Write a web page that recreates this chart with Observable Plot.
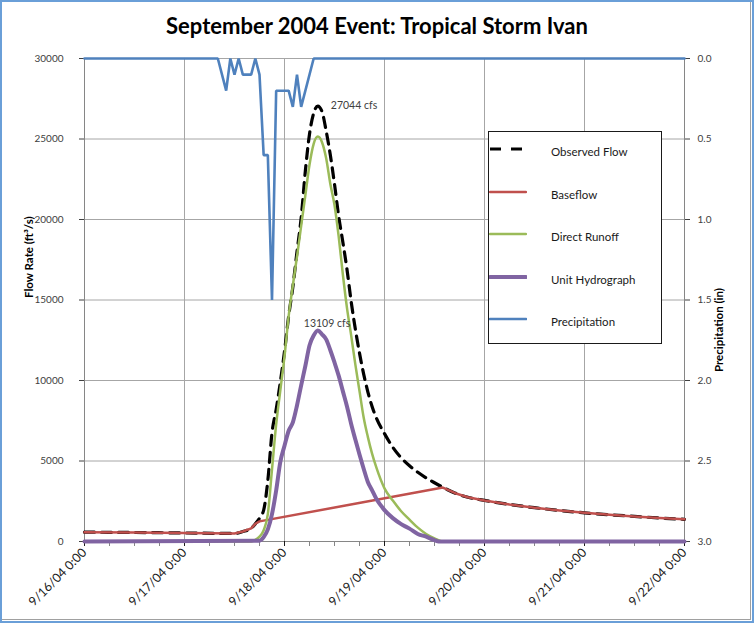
<!DOCTYPE html>
<html>
<head>
<meta charset="utf-8">
<script src="https://cdn.jsdelivr.net/npm/d3@7"></script>
<script src="https://cdn.jsdelivr.net/npm/@observablehq/plot@0.6"></script>
<style>
  body { margin: 0; background: #fff; }
  #wrap { position: relative; width: 754px; height: 623px; overflow: hidden; font-family: Lato, "Open Sans", sans-serif; background: #fff; }
  #wrap svg { position: absolute; left: 0; top: 0; }
  #title { position: absolute; left: 0; top: 12px; width: 754px; text-align: center; font-weight: bold; font-size: 22px; line-height: 28px; color: #000; }
  #legend { position: absolute; left: 488px; top: 131px; width: 174px; height: 213px; box-sizing: border-box; border: 1px solid #1a1a1a; background: #fff; }
  .row { position: absolute; left: 0; height: 20px; width: 170px; }
  .row svg { position: absolute; left: 22px; top: 4px; }
  .row span { position: absolute; left: 62px; top: 2px; font-size: 11.5px; color: #1a1a1a; white-space: nowrap; }
  #border { position: absolute; left: 0; top: 0; width: 754px; height: 623px; box-sizing: border-box; border: 2px solid #6a9fd8; pointer-events: none; }
  #shadow { position: absolute; left: 0; top: 0; width: 751px; height: 620px; box-sizing: border-box; border-right: 1px solid #a0a0a0; border-bottom: 1px solid #a0a0a0; pointer-events: none; }
</style>
</head>
<body>
<div id="wrap">
  <div id="chart"></div>
  <div id="title">September 2004 Event: Tropical Storm Ivan</div>
  <div id="legend"></div>
  <div id="shadow"></div>
  <div id="border"></div>
</div>
<script>
// ---------- data (hours after 9/16/04 0:00) ----------
const obsHours = [0,12,24,36,38,40,41,42,43,44,45,46,47,48,49,50,51,52,53,54,55,56,57,58,59,60,61,62,63,64,65,66,67,68,69,70,72,74,76,78,80,82,84,86,89,92,96,102,108,114,120,126,132,138,144];
const obsFlow  = [580,560,530,500,620,820,1100,1450,1950,3800,6750,8200,9900,11800,14000,15800,18000,20100,23000,25300,26600,27044,26700,25500,24000,22200,20200,18600,16900,14900,13200,11700,10400,9300,8400,7700,6700,5850,5200,4700,4300,3950,3650,3370,3000,2750,2550,2300,2100,1930,1780,1660,1560,1460,1380];

const baseHours = [0,12,24,36,38,40,41,42,86,89,92,96,102,108,114,120,126,132,138,144];
const baseFlow  = [580,560,530,500,620,820,1100,1250,3350,3000,2750,2550,2300,2100,1930,1780,1660,1560,1460,1380];

const runoffHours = [0,40,41,42,43,44,45,46,47,48,49,50,51,52,53,54,55,56,57,58,59,60,61,62,63,64,65,66,67,68,69,70,72,74,76,78,80,82,84,86,144];
const runoffFlow  = [0,0,100,300,700,1700,4480,7270,9390,11500,14000,15900,17700,19600,21500,23400,24700,25150,24800,23800,22200,20900,18950,16600,14500,12800,11000,9350,7700,6500,5470,4630,3300,2540,1880,1360,860,470,200,0,0];

const uhHours = [0,42,43,44,45,46,47,48,49,50,51,52,53,54,55,56,57,58,59,60,61,62,63,64,65,66,67,68,69,70,72,74,76,78,80,82,84,85,144];
const uhFlow  = [0,50,270,750,1700,3170,4950,5950,6880,7400,8450,9700,10900,12180,12800,13109,12870,12550,11880,11120,10300,9340,8390,7300,6330,5400,4520,3700,3190,2670,1950,1450,1080,800,470,300,80,0,0];

const precipHours = [0,32,34,35,36,37,38,39,40,41,42,43,44,45,46,47,48,49,50,51,52,55,144];
const precipIn    = [0,0,0.2,0,0.1,0,0.1,0.1,0.1,0,0.1,0.6,0.6,1.5,0.2,0.2,0.2,0.2,0.3,0.1,0.3,0,0];

const flowTicks = [0,5000,10000,15000,20000,25000,30000];
const precipTicks = [0.0,0.5,1.0,1.5,2.0,2.5,3.0];
const precipTickLabels = ["0.0","0.5","1.0","1.5","2.0","2.5","3.0"];
const dayHours = [0,24,48,72,96,120,144];
const xTickLabels = ["9/16/04 0:00","9/17/04 0:00","9/18/04 0:00","9/19/04 0:00","9/20/04 0:00","9/21/04 0:00","9/22/04 0:00"];

const seriesNames = ["Observed Flow","Baseflow","Direct Runoff","Unit Hydrograph","Precipitation"];
const seriesColors = ["#000000","#c0504d","#9bbb59","#8064a2","#4f81bd"];

// ---------- helpers ----------
const t0 = Date.UTC(2004, 8, 16);
const toDate = h => new Date(t0 + h * 3600e3);
const PMAX = 3.0, FMAX = 30000;
const precipToY = p => FMAX - p * (FMAX / PMAX);   // secondary reversed axis

const table = (hours, vals) => hours.map((h, i) => ({t: toDate(h), v: vals[i]}));
const obs = table(obsHours, obsFlow);
const base = table(baseHours, baseFlow);
const runoff = table(runoffHours, runoffFlow);
const uh = table(uhHours, uhFlow);
const precip = precipHours.map((h, i) => ({t: toDate(h), v: precipToY(precipIn[i])}));

const dayDates = dayHours.map(toDate);
const minorDates = d3.utcHour.every(6).range(toDate(0), toDate(145));

const obsPeak = obs[d3.maxIndex(obs, d => d.v)];
const uhPeak = uh[d3.maxIndex(uh, d => d.v)];

const gridColor = "#a6a6a6", axisColor = "#868686", textColor = "#404040";
const font = "Lato, 'Open Sans', sans-serif";

const chart = Plot.plot({
  width: 754,
  height: 623,
  marginLeft: 84,
  marginRight: 70,
  marginTop: 58,
  marginBottom: 82,
  style: {fontFamily: font, fontSize: "10px", background: "transparent", overflow: "visible"},
  x: {type: "utc", domain: [toDate(0), toDate(144)]},
  y: {domain: [0, FMAX]},
  marks: [
    Plot.gridY(flowTicks, {stroke: gridColor, strokeOpacity: 1}),
    Plot.gridX(dayDates, {stroke: gridColor, strokeOpacity: 1}),
    Plot.ruleY([0], {stroke: axisColor}),
    Plot.ruleX([toDate(0), toDate(144)], {stroke: axisColor}),
    Plot.axisY(flowTicks, {anchor: "left", tickSize: 5, tickPadding: 16, label: null,
      tickFormat: d => String(d), color: textColor, fontSize: 10}),
    Plot.axisY(precipTicks.map(precipToY), {anchor: "right", tickSize: 5, tickPadding: 8, label: null,
      tickFormat: (d, i) => precipTickLabels[i], color: textColor, fontSize: 10}),
    Plot.axisX(minorDates, {anchor: "bottom", tickSize: 5, tickFormat: () => "", label: null, color: axisColor}),
    Plot.axisX(dayDates, {anchor: "bottom", tickSize: 5, tickPadding: 4, tickRotate: -45, label: null,
      tickFormat: (d, i) => xTickLabels[i], color: "#1a1a1a", fontSize: 12.5}),
    Plot.text(["Flow Rate (ft³/s)"], {frameAnchor: "left", rotate: -90, dx: -55, dy: -2, fontWeight: "bold", fontSize: 11.5, fill: "#000"}),
    Plot.text(["Precipitation (in)"], {frameAnchor: "right", rotate: -90, dx: 35, dy: -12, fontWeight: "bold", fontSize: 11.5, fill: "#000"}),
    // series, in Excel drawing order
    Plot.line(obs, {x: "t", y: "v", stroke: seriesColors[0], strokeWidth: 3.2, strokeDasharray: "10,7", curve: "monotone-x"}),
    Plot.line(base, {x: "t", y: "v", stroke: seriesColors[1], strokeWidth: 2.5, curve: "linear"}),
    Plot.line(runoff, {x: "t", y: "v", stroke: seriesColors[2], strokeWidth: 2.5, curve: "monotone-x"}),
    Plot.line(uh, {x: "t", y: "v", stroke: seriesColors[3], strokeWidth: 4, curve: "monotone-x"}),
    Plot.line(precip, {x: "t", y: "v", stroke: seriesColors[4], strokeWidth: 2.6, strokeLinejoin: "miter"}),
    Plot.text([obsPeak], {x: "t", y: "v", text: d => `${d.v} cfs`, textAnchor: "start", dx: 13, dy: 0, fill: textColor, fontSize: 10.5}),
    Plot.text([uhPeak], {x: "t", y: "v", text: d => `${d.v} cfs`, textAnchor: "start", dx: -14, dy: -7, fill: textColor, fontSize: 10.5})
  ]
});
document.getElementById("chart").appendChild(chart);

// ---------- legend ----------
const legend = document.getElementById("legend");
const rowTops = [11, 54, 96, 139, 181];
const legendStyles = [
  {w: 3.2, dash: "11,10"}, {w: 2.5}, {w: 2.5}, {w: 4}, {w: 2.6}
];
seriesNames.forEach((name, i) => {
  const row = document.createElement("div");
  row.className = "row";
  row.style.top = rowTops[i] + "px";
  const s = legendStyles[i];
  row.innerHTML = `<svg width="38" height="12"><line x1="1" y1="6" x2="37" y2="6" stroke="${seriesColors[i]}" stroke-width="${s.w}" ${s.dash ? `stroke-dasharray="${s.dash}"` : `stroke-linecap="round"`}/></svg><span>${name}</span>`;
  legend.appendChild(row);
});
</script>
</body>
</html>
